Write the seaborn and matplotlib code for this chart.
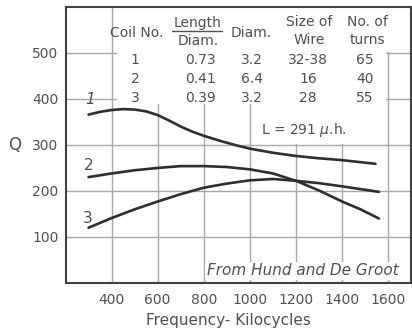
import numpy as np
import pandas as pd
import seaborn as sns
import matplotlib
matplotlib.use("Agg")
import matplotlib.pyplot as plt
from matplotlib.patches import Rectangle

# Q vs frequency for three coils
freq_1 = [300, 350, 400, 450, 500, 550, 600, 650, 700, 750, 800, 870, 950, 1000, 1100, 1200, 1300, 1400, 1545]
q_1 = [366, 372, 376, 378, 377, 373, 365, 353, 340, 329, 320, 309, 298, 292, 283, 276, 271, 267, 259]

freq_2 = [300, 400, 500, 600, 700, 800, 900, 1000, 1100, 1200, 1300, 1400, 1480, 1560]
q_2 = [230, 238, 245, 250, 254, 254, 252, 247, 238, 222, 201, 177, 160, 140]

freq_3 = [300, 400, 500, 600, 700, 800, 900, 1000, 1100, 1200, 1300, 1400, 1560]
q_3 = [120, 141, 160, 177, 193, 207, 216, 223, 226, 222, 217, 210, 198]

# coil table
coil_no = ["1", "2", "3"]
len_diam = ["0.73", "0.41", "0.39"]
diam = ["3.2", "6.4", "3.2"]
wire = ["32-38", "16", "28"]
turns = ["65", "40", "55"]

x_ticks = [400, 600, 800, 1000, 1200, 1400, 1600]
x_ticklabels = ["400", "600", "800", "1000", "1200", "1400", "1600"]
y_ticks = [100, 200, 300, 400, 500]

df = pd.concat([
    pd.DataFrame({"freq": freq_1, "Q": q_1, "coil": "1"}),
    pd.DataFrame({"freq": freq_2, "Q": q_2, "coil": "2"}),
    pd.DataFrame({"freq": freq_3, "Q": q_3, "coil": "3"}),
])

#%%
sns.set_style("white")
plt.rcParams["font.family"] = ["DejaVu Sans"]
txt = "#505050"

fig = plt.figure(figsize=(4.12, 3.34), dpi=100)
ax = fig.add_axes([0.159, 0.153, 0.839, 0.826])

sns.lineplot(data=df, x="freq", y="Q", hue="coil", sort=False,
             palette=["#2e2e2e"] * 3, linewidth=1.9, legend=False,
             ax=ax, zorder=3)

ax.set_xlim(200, 1700)
ax.set_ylim(0, 600)
ax.set_xticks(x_ticks)
ax.set_xticklabels(x_ticklabels)
ax.set_yticks(y_ticks)
ax.grid(True, color="#a8a8a8", linewidth=1.0, zorder=0.5)
ax.set_axisbelow(True)
ax.tick_params(length=0, labelsize=10, labelcolor=txt)
ax.tick_params(axis="x", pad=7)
ax.tick_params(axis="y", pad=5)
for s in ax.spines.values():
    s.set_visible(True)
    s.set_color("#404040")
    s.set_linewidth(1.5)

ax.set_xlabel("Frequency- Kilocycles", fontsize=11, color=txt)
ax.xaxis.set_label_coords(0.47, -0.11)
ax.set_ylabel("Q", fontsize=12, color=txt, rotation=0, va="center")
ax.yaxis.set_label_coords(-0.146, 0.5)

# white patches where the table and note hide the grid
ax.add_patch(Rectangle((422, 390), 1170, 212, facecolor="white", edgecolor="none", zorder=1))
ax.add_patch(Rectangle((1590, 503), 30, 95, facecolor="white", edgecolor="none", zorder=1))
ax.add_patch(Rectangle((1023, 302), 565, 95, facecolor="white", edgecolor="none", zorder=1))

fs = 10
ax.text(510, 543, "Coil No.", ha="center", va="center", fontsize=fs, color=txt, zorder=4)
ax.text(775, 565, "Length", ha="center", va="center", fontsize=fs, color=txt, zorder=4)
ax.plot([662, 880], [548, 548], color=txt, lw=1.0, zorder=4)
ax.text(775, 526, "Diam.", ha="center", va="center", fontsize=fs, color=txt, zorder=4)
ax.text(1005, 543, "Diam.", ha="center", va="center", fontsize=fs, color=txt, zorder=4)
ax.text(1257, 567, "Size of", ha="center", va="center", fontsize=fs, color=txt, zorder=4)
ax.text(1257, 528, "Wire", ha="center", va="center", fontsize=fs, color=txt, zorder=4)
ax.text(1509, 567, "No. of", ha="center", va="center", fontsize=fs, color=txt, zorder=4)
ax.text(1509, 528, "turns", ha="center", va="center", fontsize=fs, color=txt, zorder=4)

row_y = [485, 443, 402]
col_x = [502, 784, 1010, 1253, 1500]
for i in range(3):
    for cx, col in zip(col_x, [coil_no, len_diam, diam, wire, turns]):
        ax.text(cx, row_y[i], col[i], ha="center", va="center", fontsize=fs, color=txt, zorder=4)

ax.text(1236, 333, r"L = 291 $\mu$.h.", ha="center", va="center", fontsize=10, color=txt, zorder=4)

# curve numbers
ax.text(306, 398, "1", ha="center", va="center", fontsize=11, color=txt, style="italic", zorder=4)
ax.text(302, 256, "2", ha="center", va="center", fontsize=11, color=txt, zorder=4)
ax.text(298, 141, "3", ha="center", va="center", fontsize=11, color=txt, zorder=4)

ax.text(812, 26, "From Hund and De Groot", ha="left", va="center", fontsize=11,
        color=txt, style="italic", zorder=4,
        bbox=dict(facecolor="white", edgecolor="none", boxstyle="square,pad=0.1"))

fig.savefig("out.png", dpi=100)
